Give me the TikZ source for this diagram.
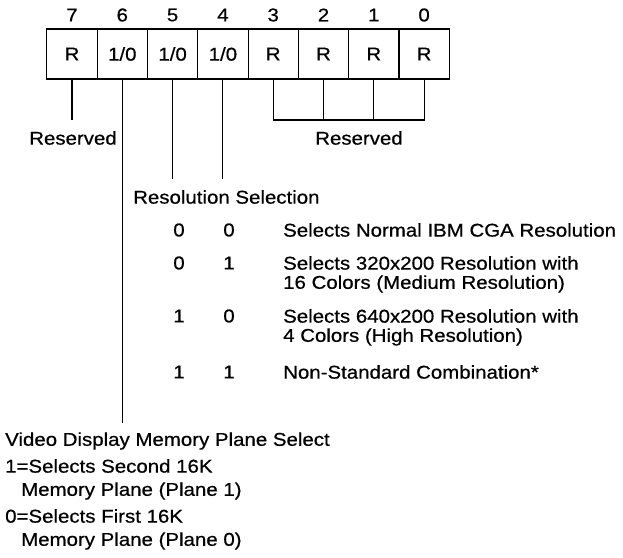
\documentclass[tikz,border=0pt]{standalone}
\usepackage{fontspec}
\setmainfont{Liberation Sans}[FakeStretch=1.105,FakeBold=0.6]
\begin{document}
\begin{tikzpicture}[x=1pt,y=-1pt,
  bitbox/.style={draw,line width=1.1pt,minimum width=50.3pt,minimum height=50pt,inner sep=0pt,font=\fontsize{18.5}{21}\selectfont},
  bitnum/.style={inner sep=0pt,font=\fontsize{18.5}{21}\selectfont},
  txt/.style={inner sep=0pt,anchor=west,font=\fontsize{18.5}{21}\selectfont},
  cell/.style={inner sep=0pt,font=\fontsize{18.5}{21}\selectfont},
  wire/.style={line width=1.1pt}]
\useasboundingbox (0,0) rectangle (623,557);
% boxes
\node[bitbox] (b7) at (72,54) {R};
\node[bitbox] (b6) at (122.3,54) {1/0};
\node[bitbox] (b5) at (172.6,54) {1/0};
\node[bitbox] (b4) at (222.9,54) {1/0};
\node[bitbox] (b3) at (273.2,54) {R};
\node[bitbox] (b2) at (323.5,54) {R};
\node[bitbox] (b1) at (373.8,54) {R};
\node[bitbox] (b0) at (424.1,54) {R};
% bit numbers
\foreach \i in {7,6,5,4,3,2,1,0}{
  \node[bitnum] (n\i) at ([yshift=39pt]b\i.center) {\i};
}
% connectors
\coordinate (e7) at (72,120);
\coordinate (e6) at (122.3,423);
\coordinate (e5) at (172.6,179);
\coordinate (e4) at (222.9,179);
\draw[wire] (b7.south) -- (e7);
\draw[wire] (b6.south) -- (e6);
\draw[wire] (b5.south) -- (e5);
\draw[wire] (b4.south) -- (e4);
\coordinate (k3) at (273.2,120);
\coordinate (k2) at (323.5,120);
\coordinate (k1) at (373.8,120);
\coordinate (k0) at (424.1,120);
\draw[wire] (b3.south) -- (k3) -- (k0) -- (b0.south);
\draw[wire] (b2.south) -- (k2);
\draw[wire] (b1.south) -- (k1);
% labels
\node[cell] (r7) at (73,138) {Reserved};
\node[cell] (r30) at (359,138) {Reserved};
\node[txt] (rs) at (133,197) {Resolution Selection};
% table
\node[cell] (a1) at (179,230) {0}; \node[cell] (c1) at (229,230) {0};
\node[txt] (t1) at (283,230) {Selects Normal IBM CGA Resolution};
\node[cell] (a2) at (179,263) {0}; \node[cell] (c2) at (229,263) {1};
\node[txt] (t2) at (283,263) {Selects 320x200 Resolution with};
\node[txt] (t2b) at (283,284) {16 Colors (Medium Resolution)};
\node[cell] (a3) at (179,316) {1}; \node[cell] (c3) at (229,316) {0};
\node[txt] (t3) at (283,316) {Selects 640x200 Resolution with};
\node[txt] (t3b) at (283,337) {4 Colors (High Resolution)};
\node[cell] (a4) at (179,372) {1}; \node[cell] (c4) at (229,372) {1};
\node[txt] (t4) at (283,372) {Non-Standard Combination*};
% bottom
\node[txt] (v1) at (5,441) {Video Display Memory Plane Select};
\node[txt] (v2) at (5,466) {1=Selects Second 16K};
\node[txt] (v3) at (21,491) {Memory Plane (Plane 1)};
\node[txt] (v4) at (5,516) {0=Selects First 16K};
\node[txt] (v5) at (21,541) {Memory Plane (Plane 0)};
\end{tikzpicture}
\end{document}
